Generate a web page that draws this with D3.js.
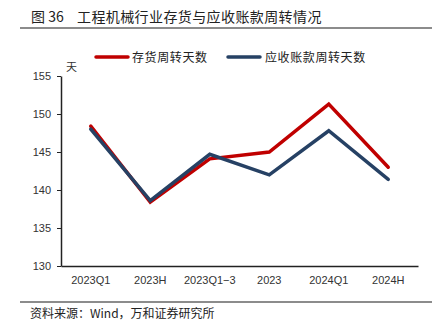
<!DOCTYPE html>
<html><head><meta charset="utf-8">
<script src="https://cdn.jsdelivr.net/npm/d3@7"></script>
<style>body{margin:0;background:#fff}svg{display:block}</style>
</head><body><svg id="c" width="441" height="329"></svg>
<script>
const categories = ["2023Q1","2023H","2023Q1−3","2023","2024Q1","2024H"];
const inventoryDays = [148.4, 138.4, 144.1, 145.0, 151.3, 143.0];
const receivableDays = [148.0, 138.6, 144.7, 142.0, 147.8, 141.4];
const yTicks = [130,135,140,145,150,155];
const seriesNames = ["存货周转天数","应收账款周转天数"];
const colors = ["#C00000","#264164"];

(function(){
const svg = d3.select("#c");
const cjk = "'Noto Sans CJK SC', sans-serif";
const mLeft = 61, mRight = 418, mTop = 76, mBottom = 266;
const x = d3.scaleBand().domain(categories).range([mLeft, mRight]);
const y = d3.scaleLinear().domain([130,155]).range([mBottom, mTop]);

// title
svg.append("text").attr("x",31).attr("y",22).attr("font-family",cjk).attr("font-size",14).attr("fill","#222")
  .text("图 36");
svg.append("text").attr("x",77).attr("y",22).attr("font-family",cjk).attr("font-size",14).attr("letter-spacing",0.4).attr("fill","#222")
  .text("工程机械行业存货与应收账款周转情况");
svg.append("line").attr("x1",20).attr("x2",432).attr("y1",28).attr("y2",28).attr("stroke","#8c8c8c").attr("stroke-width",2);

// legend
const leg = [[96,132],[228,265]];
seriesNames.forEach((n,i)=>{
  svg.append("line").attr("x1",leg[i][0]).attr("x2",leg[i][0]+32).attr("y1",57).attr("y2",57)
    .attr("stroke",colors[i]).attr("stroke-width",3.5).attr("stroke-linecap","round");
  svg.append("text").attr("x",leg[i][1]).attr("y",61.5).attr("font-family",cjk).attr("font-size",12).attr("letter-spacing",0.6).attr("fill","#222").text(n);
});

// axes
const ya = svg.append("g").attr("transform",`translate(${mLeft},0)`)
  .call(d3.axisLeft(y).tickValues(yTicks).tickSize(4).tickSizeOuter(0));
ya.select(".domain").attr("stroke","#222").attr("stroke-width",1.5);
ya.selectAll(".tick line").attr("stroke","#222");
ya.selectAll("text").attr("font-family","'Liberation Sans', Arial, sans-serif").attr("font-size",11).attr("fill","#333").attr("x",-10);

const xa = svg.append("g").attr("transform",`translate(0,${mBottom})`)
  .call(d3.axisBottom(x).tickSize(0).tickSizeOuter(0));
xa.select(".domain").attr("stroke","#222").attr("stroke-width",1.5);
xa.selectAll("text").attr("font-family","'Liberation Sans', Arial, sans-serif").attr("font-size",11).attr("fill","#333").attr("dy","1.4em");

svg.append("text").attr("x",66).attr("y",71).attr("font-family",cjk).attr("font-size",11).attr("fill","#333").text("天");

// lines
const line = d3.line().x((d,i)=>x(categories[i])+x.bandwidth()/2).y(d=>y(d));
[inventoryDays, receivableDays].forEach((s,i)=>{
  svg.append("path").attr("d",line(s)).attr("fill","none").attr("stroke",colors[i])
    .attr("stroke-width",3.5).attr("stroke-linejoin","miter").attr("stroke-linecap","round");
});

// footer
svg.append("line").attr("x1",20).attr("x2",432).attr("y1",302).attr("y2",302).attr("stroke","#8c8c8c").attr("stroke-width",2);
svg.append("text").attr("x",30).attr("y",318).attr("font-family",cjk).attr("font-size",12).attr("fill","#222")
  .text("资料来源：Wind，万和证券研究所");
})();
</script></body></html>
